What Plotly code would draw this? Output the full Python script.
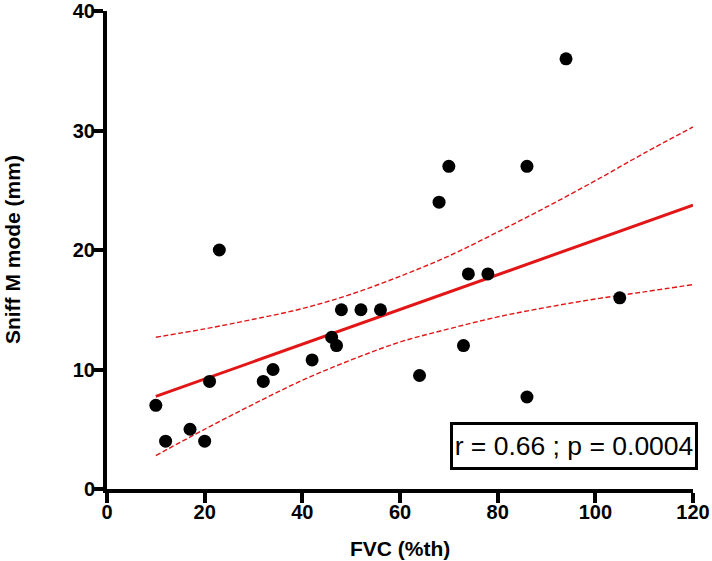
import plotly.graph_objects as go

# Data
fvc = [10, 12, 17, 20, 21, 23, 32, 34, 42, 46, 47, 48, 52, 56, 64, 68, 70, 73, 74, 78, 86, 86, 94, 105]
sniff = [7.0, 4.0, 5.0, 4.0, 9.0, 20.0, 9.0, 10.0, 10.8, 12.7, 12.0, 15.0, 15.0, 15.0, 9.5, 24.0, 27.0, 12.0, 18.0, 18.0, 27.0, 7.7, 36.0, 16.0]

# Regression line (endpoints)
fit_x = [10, 120]
fit_y = [7.75, 23.75]

# 95% confidence band
ci_x = [10, 20, 30, 40, 50, 60, 70, 80, 90, 100, 110, 120]
ci_upper = [12.7, 13.4, 14.2, 15.1, 16.3, 17.8, 19.5, 21.5, 23.6, 25.8, 28.1, 30.3]
ci_lower = [2.8, 5.0, 7.1, 9.1, 10.8, 12.3, 13.4, 14.4, 15.2, 15.9, 16.5, 17.1]

x_ticks = [0, 20, 40, 60, 80, 100, 120]
y_ticks = [0, 10, 20, 30, 40]
x_title = "FVC (%th)"
y_title = "Sniff M mode (mm)"
stat_text = "r = 0.66 ; p = 0.0004"

red = "rgb(226,22,22)"
fig = go.Figure()
for band in (ci_upper, ci_lower):
    fig.add_trace(go.Scatter(x=ci_x, y=band, mode="lines",
                             line=dict(color=red, width=1.4, dash="5px,2.5px", shape="spline", smoothing=1.0),
                             showlegend=False))
fig.add_trace(go.Scatter(x=fit_x, y=fit_y, mode="lines",
                         line=dict(color=red, width=3), showlegend=False))
fig.add_trace(go.Scatter(x=fvc, y=sniff, mode="markers",
                         marker=dict(color="black", size=13), showlegend=False))

tickfont = dict(family="Liberation Sans, Arial, sans-serif", size=20, color="black", weight="bold")
axis_style = dict(showline=True, linecolor="black", linewidth=4,
                  ticks="outside", ticklen=10, tickwidth=3.5, tickcolor="black",
                  showgrid=False, zeroline=False, tickfont=tickfont,
                  ticklabeloverflow="allow", automargin=False)
fig.update_xaxes(range=[0, 120], tickvals=x_ticks, ticklabelstandoff=-8, **axis_style)
fig.update_yaxes(range=[0, 40], tickvals=y_ticks, ticklabelstandoff=-6, **axis_style)

titlefont = dict(family="Liberation Sans, Arial, sans-serif", size=21, color="black", weight="bold")
fig.add_annotation(text=x_title, xref="paper", yref="paper", x=0.5, y=-0.125,
                   xanchor="center", yanchor="middle", showarrow=False, font=titlefont)
fig.add_annotation(text=y_title, xref="paper", yref="paper", x=-0.162, y=0.5,
                   xanchor="center", yanchor="middle", textangle=-90, showarrow=False, font=titlefont)
fig.add_annotation(text=stat_text, xref="paper", yref="paper", x=1.0085, y=0.09,
                   xanchor="right", yanchor="middle", showarrow=False,
                   font=dict(family="Liberation Sans, Arial, sans-serif", size=26.5, color="black"),
                   width=240, height=40, align="center",
                   bordercolor="black", borderwidth=3, borderpad=1, bgcolor="white")

fig.update_layout(width=712, height=561, margin=dict(l=107, r=19, t=11, b=72),
                  plot_bgcolor="white", paper_bgcolor="white")
fig.write_html("out.html", config={"displayModeBar": False},
               post_script="document.body.style.margin='0px';")
